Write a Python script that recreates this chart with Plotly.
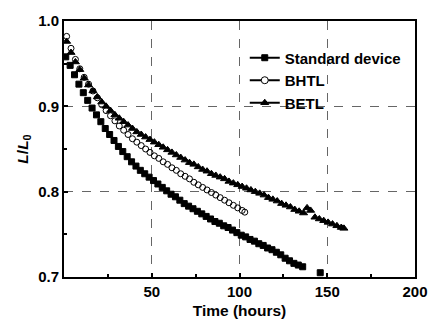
import plotly.graph_objects as go

# ---- data ----
std_t = [1, 3.5, 6, 8.5, 11, 13.5, 16, 18.5, 21, 23.5, 26, 28.5, 31, 33.5, 36, 38.5, 41, 43.5, 46, 48.5,
         51, 53.5, 56, 58.5, 61, 63.5, 66, 68.5, 71, 73.5, 76, 78.5, 81, 83.5, 86, 88.5, 91, 93.5, 96, 98.5,
         101, 103.5, 106, 108.5, 111, 113.5, 116, 118.5, 121, 123.5, 126, 128.5, 131, 133.5, 136, 146]
std_v = [0.958, 0.948, 0.937, 0.926, 0.916, 0.907, 0.898, 0.890, 0.882, 0.874, 0.867, 0.860, 0.853, 0.847,
         0.841, 0.835, 0.830, 0.825, 0.821, 0.817, 0.813, 0.809, 0.805, 0.801, 0.797, 0.794, 0.790, 0.786,
         0.783, 0.780, 0.777, 0.774, 0.771, 0.768, 0.765, 0.763, 0.760, 0.758, 0.755, 0.752, 0.749, 0.747,
         0.744, 0.742, 0.739, 0.737, 0.734, 0.732, 0.729, 0.726, 0.722, 0.719, 0.716, 0.714, 0.712, 0.705]

bhtl_t = [1.5, 4, 6.5, 9, 11.5, 14, 16.5, 19, 21.5, 24, 26.5, 29, 31.5, 34, 36.5, 39, 41.5, 44, 46.5, 49,
          51.5, 54, 56.5, 59, 61.5, 64, 66.5, 69, 71.5, 74, 76.5, 79, 81.5, 84, 86.5, 89, 91.5, 94, 96.5,
          99, 101.5, 103]
bhtl_v = [0.982, 0.968, 0.955, 0.944, 0.934, 0.926, 0.918, 0.910, 0.902, 0.895, 0.889, 0.883, 0.877, 0.872,
          0.867, 0.862, 0.858, 0.854, 0.850, 0.846, 0.842, 0.839, 0.835, 0.832, 0.828, 0.825, 0.821, 0.818,
          0.815, 0.811, 0.808, 0.805, 0.802, 0.799, 0.796, 0.793, 0.790, 0.787, 0.784, 0.781, 0.778, 0.776]

betl_t = [1.5, 4, 6.5, 9, 11.5, 14, 16.5, 19, 21.5, 24, 26.5, 29, 31.5, 34, 36.5, 39, 41.5, 44, 46.5, 49,
          51.5, 54, 56.5, 59, 61.5, 64, 66.5, 69, 71.5, 74, 76.5, 79, 81.5, 84, 86.5, 89, 91.5, 94, 96.5,
          99, 101.5, 104, 106.5, 109, 111.5, 114, 116.5, 119, 121.5, 124, 126.5, 129, 131.5, 134, 136.5,
          138.5, 140.5, 143, 145.5, 148, 150.5, 153, 155.5, 158, 159.5]
betl_v = [0.976, 0.963, 0.952, 0.943, 0.933, 0.925, 0.918, 0.911, 0.905, 0.900, 0.895, 0.890, 0.886, 0.882,
          0.878, 0.874, 0.870, 0.867, 0.864, 0.861, 0.858, 0.855, 0.852, 0.849, 0.846, 0.843, 0.840, 0.837,
          0.834, 0.832, 0.829, 0.826, 0.824, 0.821, 0.819, 0.817, 0.815, 0.812, 0.810, 0.808, 0.806, 0.804,
          0.802, 0.800, 0.798, 0.796, 0.793, 0.791, 0.789, 0.786, 0.784, 0.782, 0.779, 0.777, 0.775,
          0.781, 0.778, 0.770, 0.768, 0.766, 0.764, 0.762, 0.760, 0.758, 0.757]

series_names = ["Standard device", "BHTL", "BETL"]
x_ticks = [50, 100, 150, 200]
y_ticks = [0.7, 0.8, 0.9, 1.0]
y_tick_labels = ["0.7", "0.8", "0.9", "1.0"]

FONT = "Liberation Sans, Arial, sans-serif"

styles = [
    dict(symbol="square", size=6, color="black", line=dict(color="black", width=1)),
    dict(symbol="circle-open", size=6, color="black", line=dict(color="black", width=1)),
    dict(symbol="triangle-up", size=7, color="black", line=dict(color="black", width=1)),
]

fig = go.Figure()
for (t, v), name, st in zip([(std_t, std_v), (bhtl_t, bhtl_v), (betl_t, betl_v)], series_names, styles):
    fig.add_trace(go.Scatter(x=t, y=v, mode="markers", marker=st, showlegend=False, name=name))
# legend entries (line + marker)
for name, st in zip(series_names, styles):
    m = dict(st)
    if name == "BHTL":
        m = dict(symbol="circle", size=7, color="white", line=dict(color="black", width=1))
    fig.add_trace(go.Scatter(x=[None], y=[None], mode="lines+markers", name=name,
                             marker=m, line=dict(color="black", width=2)))

axis_common = dict(
    showline=True, linecolor="black", linewidth=2, mirror=True,
    ticks="inside", ticklen=4, tickwidth=1.5, tickcolor="black",
    showgrid=True, gridcolor="#666666", gridwidth=1, griddash="dash",
    zeroline=False, automargin=False,
    tickfont=dict(family=FONT, size=15, color="black", weight="bold"),
)

fig.update_xaxes(range=[0, 200], tickvals=x_ticks,
                 minor=dict(tickvals=[25, 75, 125, 175], ticks="inside", ticklen=3, tickcolor="black", showgrid=False),
                 title=dict(text="Time (hours)", font=dict(family=FONT, size=15.5, color="black", weight="bold"), standoff=6),
                 **axis_common)
fig.update_yaxes(range=[0.7, 1.0], tickvals=y_ticks, ticktext=y_tick_labels,
                 minor=dict(tickvals=[0.75, 0.85, 0.95], ticks="inside", ticklen=3, tickcolor="black", showgrid=False),
                 title=dict(text="<i>L</i>/<i>L</i><sub>0</sub>", font=dict(family=FONT, size=15.5, color="black", weight="bold"), standoff=6),
                 **axis_common)

fig.update_layout(
    width=429, height=326,
    margin=dict(l=64, r=14, t=21, b=49),
    paper_bgcolor="white", plot_bgcolor="white",
    legend=dict(x=0.515, y=0.92, xanchor="left", yanchor="top",
                bgcolor="rgba(0,0,0,0)", borderwidth=0,
                font=dict(family=FONT, size=15, color="black", weight="bold"),
                tracegroupgap=0, itemwidth=30),
)

fig.write_html("out.html", config={"displayModeBar": False},
               post_script="document.body.style.margin='0';document.body.style.overflow='hidden';")
